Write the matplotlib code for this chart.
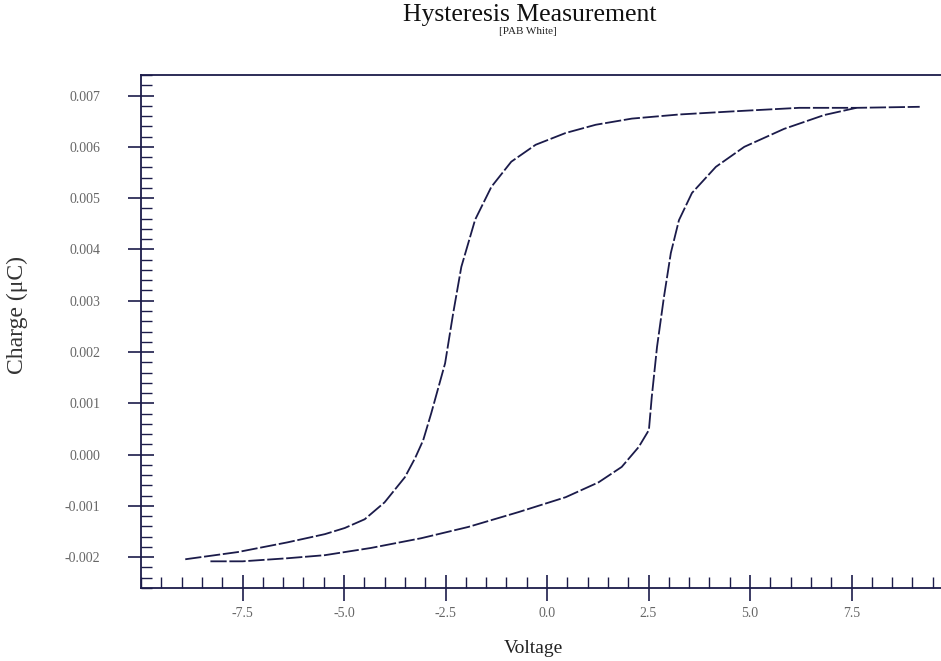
import matplotlib
matplotlib.use("Agg")
import matplotlib.pyplot as plt
from matplotlib.ticker import MultipleLocator, FormatStrFormatter

# upper branch (left loop side), voltage in V, charge in uC
upper_v = [-8.91, -7.62, -6.39, -5.47, -4.98, -4.49, -4.00, -3.50, -3.25, -3.05,
           -2.85, -2.51, -2.31, -2.11, -1.77, -1.37, -0.88, -0.28, 0.46, 1.20,
           2.09, 3.25, 4.56, 6.21, 7.62, 9.18]
upper_q = [-0.00204, -0.00190, -0.00171, -0.00155, -0.00143, -0.00126, -0.00093, -0.00044, -0.00007, 0.00028,
           0.00081, 0.00178, 0.00276, 0.00366, 0.00458, 0.00522, 0.00571, 0.00604, 0.00627, 0.00643,
           0.00655, 0.00663, 0.00669, 0.00676, 0.00676, 0.00678]

# lower branch (right loop side)
lower_v = [-8.29, -7.50, -6.39, -5.47, -4.34, -3.10, -1.94, -0.70, 0.46, 1.27,
           1.84, 2.26, 2.51, 2.58, 2.71, 2.88, 3.05, 3.25, 3.57, 4.16,
           4.86, 5.84, 6.83, 7.62]
lower_q = [-0.00208, -0.00208, -0.00202, -0.00196, -0.00182, -0.00163, -0.00141, -0.00112, -0.00083, -0.00054,
           -0.00024, 0.00015, 0.00048, 0.00112, 0.00210, 0.00307, 0.00393, 0.00457, 0.00510, 0.00561,
           0.00600, 0.00635, 0.00662, 0.00676]

x_ticks = [-7.5, -5.0, -2.5, 0.0, 2.5, 5.0, 7.5]
y_ticks = [-0.002, -0.001, 0.000, 0.001, 0.002, 0.003, 0.004, 0.005, 0.006, 0.007]

line_color = '#1b1b4a'
serif = ['Liberation Serif', 'DejaVu Serif']

fig = plt.figure(figsize=(9.41, 6.61), dpi=100)
# right edge of the axes runs past the figure, like the cropped scan
ax = fig.add_axes([141/941, 1 - 588/661, 812/941, 513/661])

ax.plot(upper_v, upper_q, color=line_color, lw=1.3, ls=(0, (9, 1.5)))
ax.plot(lower_v, lower_q, color=line_color, lw=1.3, ls=(0, (9, 1.5)))

ax.set_xlim(-10, 10)
ax.set_ylim(-0.0026, 0.0074)

ax.set_xticks(x_ticks)
ax.set_yticks(y_ticks)
ax.xaxis.set_minor_locator(MultipleLocator(0.5))
ax.yaxis.set_minor_locator(MultipleLocator(0.0002))
ax.xaxis.set_major_formatter(FormatStrFormatter('%.1f'))
ax.yaxis.set_major_formatter(FormatStrFormatter('%.3f'))

ax.tick_params(which='major', direction='inout', length=19, width=1.2, color=line_color,
               labelsize=10, labelcolor='#666666')
ax.tick_params(axis='x', which='major', pad=4)
ax.tick_params(axis='y', which='major', pad=20)
ax.tick_params(which='minor', direction='in', length=8, width=1.0, color=line_color)
for lbl in ax.get_xticklabels() + ax.get_yticklabels():
    lbl.set_family(serif)

for side in ['left', 'top', 'bottom', 'right']:
    ax.spines[side].set_color(line_color)
    ax.spines[side].set_linewidth(1.3)

ax.set_xlabel('Voltage', family=serif, fontsize=14, color='#222222')
ax.set_ylabel('Charge (μC)', family=serif, fontsize=17, color='#333333')
ax.xaxis.set_label_coords(0.483, -0.101)
ax.yaxis.set_label_coords(-0.139, 0.532)

fig.text(530/941, 1 - 15/661, 'Hysteresis Measurement', family=serif, fontsize=18.5,
         ha='center', va='center', color='#111111')
fig.text(528/941, 1 - 32/661, '[PAB White]', family=serif, fontsize=8,
         ha='center', va='center', color='#222222')

fig.savefig('out.png', dpi=100)
